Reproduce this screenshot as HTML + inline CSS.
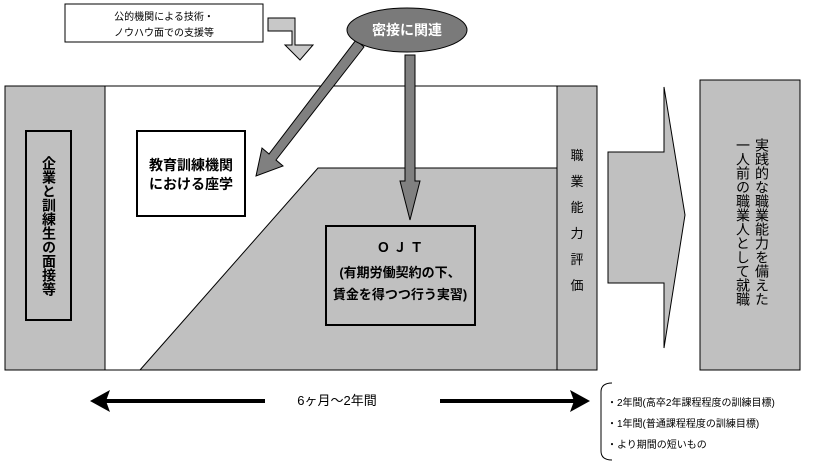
<!DOCTYPE html>
<html><head><meta charset="utf-8"><style>
html,body{margin:0;padding:0;background:#fff;}
svg{display:block;font-family:"Liberation Sans","Noto Sans CJK JP",sans-serif;}
</style></head><body>
<svg width="814" height="467" viewBox="0 0 814 467" xmlns="http://www.w3.org/2000/svg">
<rect x="65" y="4" width="198" height="38" fill="#fff" stroke="#000" stroke-width="1"/>
<text x="164" y="20" font-size="10" text-anchor="middle">公的機関による技術・</text>
<text x="164" y="36" font-size="10" text-anchor="middle">ノウハウ面での支援等</text>
<path d="M268,18 L295,18 L295,45 L313,45 L300,60 L285,45 L292,45 L292,31 L268,31 Z" fill="#c8c8c8" stroke="#000" stroke-width="1"/>
<rect x="105" y="86" width="452" height="284" fill="#fff" stroke="#000" stroke-width="1"/>
<path d="M140,370 L318,168 L557,168 L557,370 Z" fill="#c0c0c0" stroke="#000" stroke-width="1"/>
<rect x="5" y="86" width="100" height="284" fill="#c0c0c0" stroke="#000" stroke-width="1"/>
<rect x="557" y="86" width="40" height="284" fill="#c0c0c0" stroke="#000" stroke-width="1"/>
<rect x="26" y="131" width="45" height="189" fill="#c0c0c0" stroke="#000" stroke-width="2"/>
<text font-size="14" font-weight="bold" text-anchor="middle" writing-mode="tb" x="49" y="226">企業と訓練生の面接等</text>
<rect x="137" y="131" width="108" height="85" fill="#fff" stroke="#000" stroke-width="2"/>
<text x="191" y="170" font-size="14" font-weight="bold" text-anchor="middle">教育訓練機関</text>
<text x="191" y="189" font-size="14" font-weight="bold" text-anchor="middle">における座学</text>
<rect x="326" y="226" width="149" height="99" fill="#c0c0c0" stroke="#000" stroke-width="2"/>
<text x="400" y="252" font-size="13" font-weight="bold" text-anchor="middle">Ｏ Ｊ Ｔ</text>
<text x="400" y="277" font-size="13" font-weight="bold" text-anchor="middle">(有期労働契約の下、</text>
<text x="400" y="299" font-size="13" font-weight="bold" text-anchor="middle">賃金を得つつ行う実習)</text>
<text font-size="13" text-anchor="middle" x="577" y="160">職</text>
<text font-size="13" text-anchor="middle" x="577" y="186">業</text>
<text font-size="13" text-anchor="middle" x="577" y="212">能</text>
<text font-size="13" text-anchor="middle" x="577" y="238">力</text>
<text font-size="13" text-anchor="middle" x="577" y="264">評</text>
<text font-size="13" text-anchor="middle" x="577" y="290">価</text>
<path d="M356,40 L364,47 L276,160 L283,166 L256,176 L262,148 L269,154 Z" fill="#808080" stroke="#000" stroke-width="1"/>
<path d="M405,55 L415,55 L415,181 L420,181 L410,220 L400,181 L405,181 Z" fill="#808080" stroke="#000" stroke-width="1"/>
<ellipse cx="407" cy="30" rx="60" ry="22" fill="#7a7a7a" stroke="#000" stroke-width="1"/>
<text x="407" y="35" font-size="14" font-weight="bold" fill="#fff" text-anchor="middle">密接に関連</text>
<path d="M608,152 L664,152 L664,87 L685,215 L664,348 L664,283 L608,283 Z" fill="#c0c0c0" stroke="#000" stroke-width="1"/>
<rect x="700" y="80" width="100" height="290" fill="#c0c0c0" stroke="#000" stroke-width="1"/>
<text font-size="14" text-anchor="middle" writing-mode="tb" x="762" y="222">実践的な職業能力を備えた</text>
<text font-size="14" text-anchor="middle" writing-mode="tb" x="743" y="222">一人前の職業人として就職</text>
<line x1="105" y1="401" x2="265" y2="401" stroke="#000" stroke-width="4"/>
<path d="M90,401 L110,390 L106,401 L110,412 Z" fill="#000"/>
<text x="337" y="405" font-size="13" text-anchor="middle">6ヶ月～2年間</text>
<line x1="440" y1="401" x2="575" y2="401" stroke="#000" stroke-width="4"/>
<path d="M590,401 L570,390 L574,401 L570,412 Z" fill="#000"/>
<path d="M612,383 Q601,383 601,392 L601,451 Q601,460 612,460" fill="none" stroke="#000" stroke-width="1"/>
<text x="607" y="406" font-size="10">・2年間(高卒2年課程程度の訓練目標)</text>
<text x="607" y="427" font-size="10">・1年間(普通課程程度の訓練目標)</text>
<text x="607" y="448" font-size="10">・より期間の短いもの</text>
</svg>
</body></html>
